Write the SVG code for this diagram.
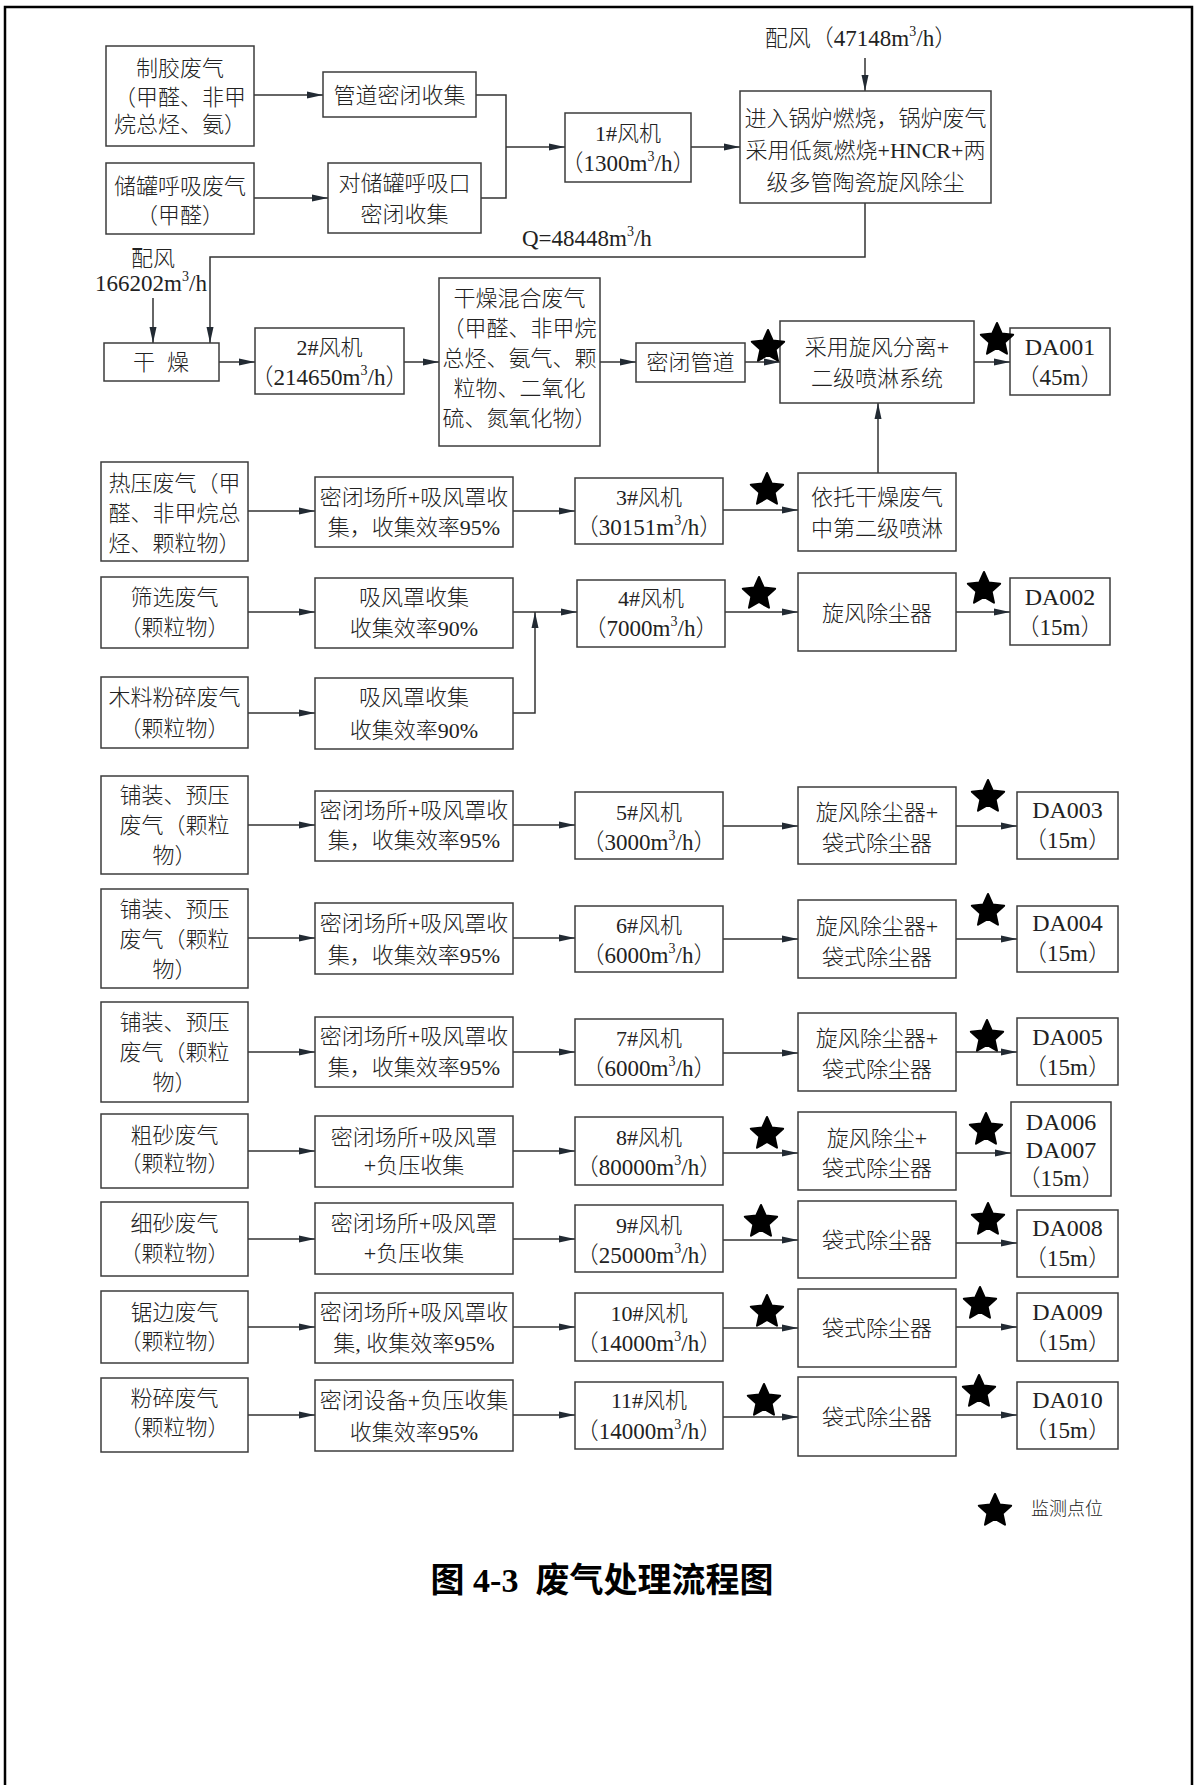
<svg xmlns="http://www.w3.org/2000/svg" xmlns:xlink="http://www.w3.org/1999/xlink" width="1198" height="1785" viewBox="0 0 1198 1785">
<style>
.b{fill:#fff;stroke:#3c3c3c;stroke-width:1.5}
.t{font-family:'Liberation Serif','Noto Sans CJK SC',serif;font-size:22px;font-weight:300;fill:#222;text-anchor:middle;dominant-baseline:central}
.n{font-size:23px}
.d{font-size:24px}
.c{fill:none;stroke:#333;stroke-width:1.5}
.a{marker-end:url(#ah)}
.s{fill:#000;stroke:#000;stroke-width:2;stroke-linejoin:round}
</style>
<defs>
<marker id="ah" markerUnits="userSpaceOnUse" markerWidth="16" markerHeight="8" refX="16" refY="4" orient="auto">
<path d="M0,0.5 L16,4 L0,7.5 Z" fill="#222a33"/>
</marker>
<path id="star" d="M0,-17 L4.7,-6.47 L16.17,-5.25 L7.61,2.47 L9.99,13.75 L0,8 L-9.99,13.75 L-7.61,2.47 L-16.17,-5.25 L-4.7,-6.47 Z"/>
</defs>
<rect x="0" y="0" width="1198" height="1785" fill="#fff"/>
<path d="M5,1785 V7 H1192 V1785" fill="none" stroke="#000" stroke-width="2.5"/>

<g id="connectors">
<path class="c a" d="M254,95 H323"/>
<path class="c a" d="M254,198 H328"/>
<path class="c" d="M476,95 H506 V198 H481"/>
<path class="c a" d="M506,147 H565"/>
<path class="c a" d="M691,147 H740"/>
<path class="c a" d="M865,58 V91"/>
<path class="c a" d="M865,203 V257 H210 V343"/>
<path class="c a" d="M153,298 V343"/>
<path class="c a" d="M219,362 H255"/>
<path class="c a" d="M404,362 H439"/>
<path class="c a" d="M600,362 H636"/>
<path class="c a" d="M745,362 H780"/>
<path class="c a" d="M974,362 H1010"/>
<path class="c a" d="M878,473 V403"/>
<path class="c a" d="M248,511 H315"/>
<path class="c a" d="M513,511 H575"/>
<path class="c a" d="M723,510 H798"/>
<path class="c a" d="M248,612 H315"/>
<path class="c a" d="M248,713 H315"/>
<path class="c a" d="M513,612 H577"/>
<path class="c a" d="M513,713 H535 V612"/>
<path class="c a" d="M725,612 H798"/>
<path class="c a" d="M956,612 H1010"/>
<path class="c a" d="M248,825 H315"/>
<path class="c a" d="M513,825 H575"/>
<path class="c a" d="M723,826 H798"/>
<path class="c a" d="M956,826 H1017"/>
<path class="c a" d="M248,938 H315"/>
<path class="c a" d="M513,938 H575"/>
<path class="c a" d="M723,939 H798"/>
<path class="c a" d="M956,939 H1017"/>
<path class="c a" d="M248,1052 H315"/>
<path class="c a" d="M513,1052 H575"/>
<path class="c a" d="M723,1053 H798"/>
<path class="c a" d="M956,1052 H1017"/>
<path class="c a" d="M248,1151 H315"/>
<path class="c a" d="M513,1151 H575"/>
<path class="c a" d="M723,1153 H798"/>
<path class="c a" d="M956,1153 H1011"/>
<path class="c a" d="M248,1239 H315"/>
<path class="c a" d="M513,1239 H575"/>
<path class="c a" d="M723,1240 H798"/>
<path class="c a" d="M956,1243 H1017"/>
<path class="c a" d="M248,1327 H315"/>
<path class="c a" d="M513,1327 H575"/>
<path class="c a" d="M723,1328 H798"/>
<path class="c a" d="M956,1327 H1017"/>
<path class="c a" d="M248,1415 H315"/>
<path class="c a" d="M513,1415 H575"/>
<path class="c a" d="M723,1417 H798"/>
<path class="c a" d="M956,1415 H1017"/>
</g>

<g id="labels">
<text class="t n" x="861" y="38">配风（47148m<tspan dy="-7" font-size="14">3</tspan><tspan dy="7">/h）</tspan></text>
<text class="t n" x="522" y="238" style="text-anchor:start">Q=48448m<tspan dy="-7" font-size="14">3</tspan><tspan dy="7">/h</tspan></text>
<text class="t" x="153" y="258">配风</text>
<text class="t n" x="151" y="283">166202m<tspan dy="-7" font-size="14">3</tspan><tspan dy="7">/h</tspan></text>
</g>

<g id="n_zhijiao"><rect class="b" x="106" y="46" width="148" height="100"/>
<text class="t" x="180" y="68">制胶废气</text><text class="t" x="180" y="97">（甲醛、非甲</text><text class="t" x="180" y="124">烷总烃、氨）</text></g>
<g id="n_guandao"><rect class="b" x="323" y="72" width="153" height="45"/>
<text class="t" x="399.5" y="95">管道密闭收集</text></g>
<g id="n_chuguan"><rect class="b" x="106" y="163" width="148" height="71"/>
<text class="t" x="180" y="186">储罐呼吸废气</text><text class="t" x="180" y="215">（甲醛）</text></g>
<g id="n_duichuguan"><rect class="b" x="328" y="163" width="153" height="70"/>
<text class="t" x="404.5" y="183">对储罐呼吸口</text><text class="t" x="404.5" y="214">密闭收集</text></g>
<g id="n_fan1"><rect class="b" x="565" y="113" width="126" height="69"/>
<text class="t" x="628" y="133">1#风机</text><text class="t n" x="628" y="163">（1300m<tspan dy="-7" font-size="14">3</tspan><tspan dy="7">/h）</tspan></text></g>
<g id="n_boiler"><rect class="b" x="740" y="91" width="251" height="112"/>
<text class="t" x="865.5" y="118">进入锅炉燃烧，锅炉废气</text><text class="t" x="865.5" y="150">采用低氮燃烧+HNCR+两</text><text class="t" x="865.5" y="182">级多管陶瓷旋风除尘</text></g>

<g id="n_ganzao"><rect class="b" x="104" y="343" width="115" height="38"/>
<text class="t" x="161" y="362">干<tspan dx="12">燥</tspan></text></g>
<g id="n_fan2"><rect class="b" x="255" y="328" width="149" height="66"/>
<text class="t" x="329.5" y="347">2#风机</text><text class="t n" x="329.5" y="377">（214650m<tspan dy="-7" font-size="14">3</tspan><tspan dy="7">/h）</tspan></text></g>
<g id="n_hunhe"><rect class="b" x="439" y="278" width="161" height="168"/>
<text class="t" x="519.5" y="298">干燥混合废气</text><text class="t" x="519.5" y="328">（甲醛、非甲烷</text><text class="t" x="519.5" y="358">总烃、氨气、颗</text><text class="t" x="519.5" y="388">粒物、二氧化</text><text class="t" x="519.5" y="418">硫、氮氧化物）</text></g>
<g id="n_mibiguandao"><rect class="b" x="636" y="343" width="109" height="39"/>
<text class="t" x="690.5" y="362">密闭管道</text></g>
<g id="n_xuanfengpenlin"><rect class="b" x="780" y="321" width="194" height="82"/>
<text class="t" x="877" y="347">采用旋风分离+</text><text class="t" x="877" y="378">二级喷淋系统</text></g>
<g id="n_da001"><rect class="b" x="1010" y="328" width="100" height="67"/>
<text class="t d" x="1060" y="347">DA001</text><text class="t n" x="1060" y="377">（45m）</text></g>

<g id="n_reya"><rect class="b" x="101" y="462" width="147" height="99"/>
<text class="t" x="174.5" y="483">热压废气（甲</text><text class="t" x="174.5" y="513">醛、非甲烷总</text><text class="t" x="174.5" y="543">烃、颗粒物）</text></g>
<g id="n_c3"><rect class="b" x="315" y="477" width="198" height="70"/>
<text class="t" x="414" y="497">密闭场所+吸风罩收</text><text class="t" x="414" y="527">集，收集效率95%</text></g>
<g id="n_fan3"><rect class="b" x="575" y="478" width="148" height="66"/>
<text class="t" x="649" y="497">3#风机</text><text class="t n" x="649" y="527">（30151m<tspan dy="-7" font-size="14">3</tspan><tspan dy="7">/h）</tspan></text></g>
<g id="n_yituo"><rect class="b" x="798" y="473" width="158" height="78"/>
<text class="t" x="877" y="497">依托干燥废气</text><text class="t" x="877" y="528">中第二级喷淋</text></g>

<g id="n_shaixuan"><rect class="b" x="101" y="577" width="147" height="71"/>
<text class="t" x="174.5" y="597">筛选废气</text><text class="t" x="174.5" y="627">（颗粒物）</text></g>
<g id="n_c4a"><rect class="b" x="315" y="578" width="198" height="70"/>
<text class="t" x="414" y="597">吸风罩收集</text><text class="t" x="414" y="628">收集效率90%</text></g>
<g id="n_muliao"><rect class="b" x="101" y="677" width="147" height="71"/>
<text class="t" x="174.5" y="697">木料粉碎废气</text><text class="t" x="174.5" y="728">（颗粒物）</text></g>
<g id="n_c4b"><rect class="b" x="315" y="678" width="198" height="71"/>
<text class="t" x="414" y="697">吸风罩收集</text><text class="t" x="414" y="730">收集效率90%</text></g>
<g id="n_fan4"><rect class="b" x="577" y="580" width="148" height="67"/>
<text class="t" x="651" y="598">4#风机</text><text class="t n" x="651" y="628">（7000m<tspan dy="-7" font-size="14">3</tspan><tspan dy="7">/h）</tspan></text></g>
<g id="n_t4"><rect class="b" x="798" y="573" width="158" height="78"/>
<text class="t" x="877" y="613">旋风除尘器</text></g>
<g id="n_da002"><rect class="b" x="1010" y="578" width="100" height="67"/>
<text class="t d" x="1060" y="597">DA002</text><text class="t n" x="1060" y="627">（15m）</text></g>

<g id="n_puzhuang1"><rect class="b" x="101" y="776" width="147" height="98"/>
<text class="t" x="174.5" y="795">铺装、预压</text><text class="t" x="174.5" y="825">废气（颗粒</text><text class="t" x="174.5" y="855">物）</text></g>
<g id="n_c5"><rect class="b" x="315" y="791" width="198" height="70"/>
<text class="t" x="414" y="810">密闭场所+吸风罩收</text><text class="t" x="414" y="840">集，收集效率95%</text></g>
<g id="n_fan5"><rect class="b" x="575" y="792" width="148" height="67"/>
<text class="t" x="649" y="812">5#风机</text><text class="t n" x="649" y="842">（3000m<tspan dy="-7" font-size="14">3</tspan><tspan dy="7">/h）</tspan></text></g>
<g id="n_t5"><rect class="b" x="798" y="787" width="158" height="77"/>
<text class="t" x="877" y="812">旋风除尘器+</text><text class="t" x="877" y="843">袋式除尘器</text></g>
<g id="n_da003"><rect class="b" x="1017" y="792" width="101" height="67"/>
<text class="t d" x="1067.5" y="810">DA003</text><text class="t n" x="1067.5" y="840">（15m）</text></g>

<g id="n_puzhuang2"><rect class="b" x="101" y="889" width="147" height="99"/>
<text class="t" x="174.5" y="909">铺装、预压</text><text class="t" x="174.5" y="939">废气（颗粒</text><text class="t" x="174.5" y="969">物）</text></g>
<g id="n_c6"><rect class="b" x="315" y="903" width="198" height="71"/>
<text class="t" x="414" y="923">密闭场所+吸风罩收</text><text class="t" x="414" y="955">集，收集效率95%</text></g>
<g id="n_fan6"><rect class="b" x="575" y="906" width="148" height="66"/>
<text class="t" x="649" y="925">6#风机</text><text class="t n" x="649" y="955">（6000m<tspan dy="-7" font-size="14">3</tspan><tspan dy="7">/h）</tspan></text></g>
<g id="n_t6"><rect class="b" x="798" y="900" width="158" height="78"/>
<text class="t" x="877" y="926">旋风除尘器+</text><text class="t" x="877" y="957">袋式除尘器</text></g>
<g id="n_da004"><rect class="b" x="1017" y="906" width="101" height="66"/>
<text class="t d" x="1067.5" y="923">DA004</text><text class="t n" x="1067.5" y="953">（15m）</text></g>

<g id="n_puzhuang3"><rect class="b" x="101" y="1002" width="147" height="100"/>
<text class="t" x="174.5" y="1022">铺装、预压</text><text class="t" x="174.5" y="1052">废气（颗粒</text><text class="t" x="174.5" y="1082">物）</text></g>
<g id="n_c7"><rect class="b" x="315" y="1017" width="198" height="70"/>
<text class="t" x="414" y="1036">密闭场所+吸风罩收</text><text class="t" x="414" y="1067">集，收集效率95%</text></g>
<g id="n_fan7"><rect class="b" x="575" y="1019" width="148" height="66"/>
<text class="t" x="649" y="1038">7#风机</text><text class="t n" x="649" y="1068">（6000m<tspan dy="-7" font-size="14">3</tspan><tspan dy="7">/h）</tspan></text></g>
<g id="n_t7"><rect class="b" x="798" y="1013" width="158" height="78"/>
<text class="t" x="877" y="1038">旋风除尘器+</text><text class="t" x="877" y="1069">袋式除尘器</text></g>
<g id="n_da005"><rect class="b" x="1017" y="1018" width="101" height="67"/>
<text class="t d" x="1067.5" y="1037">DA005</text><text class="t n" x="1067.5" y="1067">（15m）</text></g>

<g id="n_cusha"><rect class="b" x="101" y="1114" width="147" height="74"/>
<text class="t" x="174.5" y="1135">粗砂废气</text><text class="t" x="174.5" y="1163">（颗粒物）</text></g>
<g id="n_c8"><rect class="b" x="315" y="1116" width="198" height="71"/>
<text class="t" x="414" y="1137">密闭场所+吸风罩</text><text class="t" x="414" y="1165">+负压收集</text></g>
<g id="n_fan8"><rect class="b" x="575" y="1117" width="148" height="68"/>
<text class="t" x="649" y="1137">8#风机</text><text class="t n" x="649" y="1167">（80000m<tspan dy="-7" font-size="14">3</tspan><tspan dy="7">/h）</tspan></text></g>
<g id="n_t8"><rect class="b" x="798" y="1112" width="158" height="78"/>
<text class="t" x="877" y="1138">旋风除尘+</text><text class="t" x="877" y="1168">袋式除尘器</text></g>
<g id="n_da006"><rect class="b" x="1011" y="1102" width="100" height="94"/>
<text class="t d" x="1061" y="1122">DA006</text><text class="t d" x="1061" y="1150">DA007</text><text class="t n" x="1061" y="1178">（15m）</text></g>

<g id="n_xisha"><rect class="b" x="101" y="1202" width="147" height="74"/>
<text class="t" x="174.5" y="1223">细砂废气</text><text class="t" x="174.5" y="1253">（颗粒物）</text></g>
<g id="n_c9"><rect class="b" x="315" y="1203" width="198" height="71"/>
<text class="t" x="414" y="1223">密闭场所+吸风罩</text><text class="t" x="414" y="1253">+负压收集</text></g>
<g id="n_fan9"><rect class="b" x="575" y="1205" width="148" height="67"/>
<text class="t" x="649" y="1225">9#风机</text><text class="t n" x="649" y="1255">（25000m<tspan dy="-7" font-size="14">3</tspan><tspan dy="7">/h）</tspan></text></g>
<g id="n_t9"><rect class="b" x="798" y="1201" width="158" height="77"/>
<text class="t" x="877" y="1240">袋式除尘器</text></g>
<g id="n_da008"><rect class="b" x="1017" y="1210" width="101" height="67"/>
<text class="t d" x="1067.5" y="1228">DA008</text><text class="t n" x="1067.5" y="1258">（15m）</text></g>

<g id="n_jubian"><rect class="b" x="101" y="1291" width="147" height="72"/>
<text class="t" x="174.5" y="1312">锯边废气</text><text class="t" x="174.5" y="1341">（颗粒物）</text></g>
<g id="n_c10"><rect class="b" x="315" y="1293" width="198" height="70"/>
<text class="t" x="414" y="1312">密闭场所+吸风罩收</text><text class="t" x="414" y="1343">集, 收集效率95%</text></g>
<g id="n_fan10"><rect class="b" x="575" y="1293" width="148" height="68"/>
<text class="t" x="649" y="1313">10#风机</text><text class="t n" x="649" y="1343">（14000m<tspan dy="-7" font-size="14">3</tspan><tspan dy="7">/h）</tspan></text></g>
<g id="n_t10"><rect class="b" x="798" y="1289" width="158" height="78"/>
<text class="t" x="877" y="1328">袋式除尘器</text></g>
<g id="n_da009"><rect class="b" x="1017" y="1293" width="101" height="68"/>
<text class="t d" x="1067.5" y="1312">DA009</text><text class="t n" x="1067.5" y="1342">（15m）</text></g>

<g id="n_fensui"><rect class="b" x="101" y="1378" width="147" height="74"/>
<text class="t" x="174.5" y="1398">粉碎废气</text><text class="t" x="174.5" y="1427">（颗粒物）</text></g>
<g id="n_c11"><rect class="b" x="315" y="1380" width="198" height="71"/>
<text class="t" x="414" y="1400">密闭设备+负压收集</text><text class="t" x="414" y="1432">收集效率95%</text></g>
<g id="n_fan11"><rect class="b" x="575" y="1382" width="148" height="67"/>
<text class="t" x="649" y="1400">11#风机</text><text class="t n" x="649" y="1431">（14000m<tspan dy="-7" font-size="14">3</tspan><tspan dy="7">/h）</tspan></text></g>
<g id="n_t11"><rect class="b" x="798" y="1377" width="158" height="79"/>
<text class="t" x="877" y="1417">袋式除尘器</text></g>
<g id="n_da010"><rect class="b" x="1017" y="1382" width="101" height="67"/>
<text class="t d" x="1067.5" y="1400">DA010</text><text class="t n" x="1067.5" y="1430">（15m）</text></g>

<g id="stars">
<use href="#star" class="s" x="768" y="347"/>
<use href="#star" class="s" x="997" y="340"/>
<use href="#star" class="s" x="767" y="490"/>
<use href="#star" class="s" x="759" y="594"/>
<use href="#star" class="s" x="984" y="589"/>
<use href="#star" class="s" x="988" y="797"/>
<use href="#star" class="s" x="988" y="911"/>
<use href="#star" class="s" x="987" y="1037"/>
<use href="#star" class="s" x="767" y="1134"/>
<use href="#star" class="s" x="986" y="1130"/>
<use href="#star" class="s" x="761" y="1222"/>
<use href="#star" class="s" x="988" y="1220"/>
<use href="#star" class="s" x="767" y="1312"/>
<use href="#star" class="s" x="980" y="1304"/>
<use href="#star" class="s" x="764" y="1401"/>
<use href="#star" class="s" x="979" y="1392"/>
</g>

<g id="legend">
<use href="#star" class="s" x="995" y="1511"/>
<text class="t" x="1031" y="1509" style="text-anchor:start;font-size:18px">监测点位</text>
</g>

<g id="title">
<text x="602" y="1580" xml:space="preserve" style="font-family:'Liberation Serif','Noto Sans CJK SC',serif;font-size:34px;font-weight:bold;fill:#000;text-anchor:middle;dominant-baseline:central">图 4-3  废气处理流程图</text>
</g>
</svg>
